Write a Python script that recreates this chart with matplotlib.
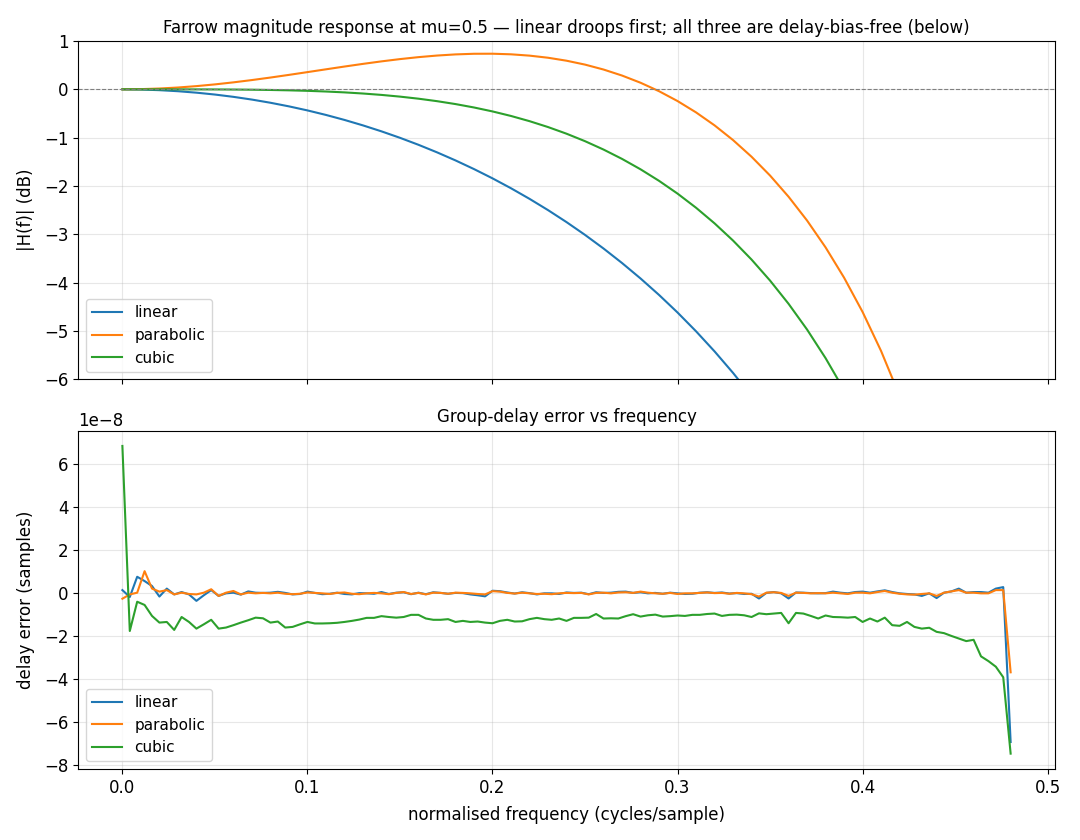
import numpy as np
import matplotlib
matplotlib.use("Agg")
import matplotlib.pyplot as plt

# ---- top panel: magnitude response (dB) at mu = 0.5 ----
freq_mag = [0.00, 0.01, 0.02, 0.03, 0.04, 0.05, 0.06, 0.07, 0.08, 0.09,
            0.10, 0.11, 0.12, 0.13, 0.14, 0.15, 0.16, 0.17, 0.18, 0.19,
            0.20, 0.21, 0.22, 0.23, 0.24, 0.25, 0.26, 0.27, 0.28, 0.29,
            0.30, 0.31, 0.32, 0.33, 0.34, 0.35, 0.36, 0.37, 0.38, 0.39,
            0.40, 0.41, 0.42, 0.43]

mag_linear = [0.0000, -0.0043, -0.0171, -0.0387, -0.0688, -0.1076, -0.1552, -0.2117,
              -0.2773, -0.3520, -0.4358, -0.5293, -0.6324, -0.7455, -0.8687, -1.0024,
              -1.1468, -1.3026, -1.4698, -1.6491, -1.8408, -2.0457, -2.2645, -2.4975,
              -2.7458, -3.0103, -3.2919, -3.5919, -3.9115, -4.2521, -4.6156, -5.0041,
              -5.4195, -5.8650, -6.3436, -6.8590]

mag_parabolic = [0.0000, 0.0043, 0.0171, 0.0379, 0.0666, 0.1024, 0.1445, 0.1921,
                 0.2439, 0.2991, 0.3563, 0.4142, 0.4715, 0.5266, 0.5785, 0.6254,
                 0.6660, 0.6988, 0.7226, 0.7357, 0.7368, 0.7245, 0.6972, 0.6537,
                 0.5923, 0.5116, 0.4098, 0.2854, 0.1366, -0.0385, -0.2422, -0.4769,
                 -0.7449, -1.0496, -1.3943, -1.7832, -2.2211, -2.7138, -3.2690, -3.8953,
                 -4.6045, -5.4122, -6.3388, -7.4133]

mag_cubic = [0.0000, 0.0000, 0.0000, -0.0003, -0.0009, -0.0020, -0.0040, -0.0075,
             -0.0128, -0.0203, -0.0307, -0.0448, -0.0629, -0.0862, -0.1150, -0.1505,
             -0.1932, -0.2444, -0.3046, -0.3751, -0.4567, -0.5506, -0.6580, -0.7798,
             -0.9174, -1.0721, -1.2453, -1.4387, -1.6537, -1.8923, -2.1565, -2.4488,
             -2.7715, -3.1278, -3.5211, -3.9555, -4.4359, -4.9682, -5.5598, -6.2196,
             -6.9594]

# ---- bottom panel: group-delay error (units of 1e-8 samples) ----
freq_gd = np.linspace(0.0, 0.48, 121)

gd_linear_e8 = [
    0.15, -0.17, 0.77, 0.57, 0.34, -0.15, 0.22, -0.05, 0.06, -0.05,
    -0.35, -0.09, 0.15, -0.12, 0.00, 0.03, -0.06, 0.09, 0.03,
    0.02, 0.03, 0.07, 0.02, -0.05, -0.03, 0.08, 0.02, -0.04, -0.02,
    0.03, -0.03, -0.05, 0.01, 0.00, -0.02, 0.06, -0.03, 0.03,
    0.05, -0.04, 0.03, -0.04, 0.05, 0.02, -0.02, 0.02, 0.01, -0.05,
    -0.09, -0.14, 0.12, 0.10, 0.04, -0.01, 0.05, 0.01, -0.05, 0.00,
    0.00, -0.03, 0.04, 0.02, 0.03, -0.04, 0.05, 0.02, 0.03, 0.07,
    0.08, 0.02, 0.05, 0.00, 0.02, -0.02, 0.03, 0.00, -0.03,
    -0.02, 0.03, 0.05, 0.02, 0.04, -0.01, 0.01, -0.03, -0.02, -0.24,
    0.02, 0.06, 0.00, -0.24, 0.04, 0.03, 0.01, 0.00, 0.01, 0.08,
    0.03, 0.00, 0.06, 0.08, 0.03, 0.09, 0.14, 0.06, 0.00, -0.03,
    -0.05, -0.12, 0.00, -0.22, 0.03, 0.09, 0.22, 0.03, 0.06, 0.06,
    0.03, 0.22, 0.29, -6.91]

gd_parabolic_e8 = [
    -0.25, -0.05, 0.03, 1.03, 0.22, 0.08, 0.15, -0.05, 0.03, -0.03,
    -0.05, 0.03, 0.19, -0.12, 0.03, 0.11, -0.05, 0.03, 0.00,
    0.02, 0.00, 0.03, -0.02, -0.04, -0.02, 0.04, 0.02, 0.00, -0.03,
    0.02, 0.04, -0.02, -0.04, 0.00, 0.02, 0.00, -0.04, 0.02,
    0.06, -0.03, 0.02, -0.05, 0.03, 0.02, -0.02, 0.03, 0.02, 0.00,
    -0.03, -0.05, 0.10, 0.08, 0.02, -0.01, 0.03, 0.00, -0.03, -0.02,
    -0.04, 0.00, 0.02, 0.01, 0.02, -0.05, 0.02, 0.03, 0.00, 0.04,
    0.05, 0.02, 0.08, 0.03, 0.00, -0.02, 0.02, -0.03, 0.00,
    0.00, 0.02, 0.04, 0.01, 0.02, -0.02, 0.02, 0.00, -0.04, -0.15,
    0.03, 0.05, 0.02, -0.12, 0.03, 0.02, 0.00, 0.01, 0.00, 0.03,
    0.00, -0.03, 0.03, 0.03, 0.00, 0.06, 0.11, 0.03, -0.02, -0.05,
    -0.06, -0.03, 0.00, -0.12, 0.03, 0.09, 0.15, 0.03, 0.03, 0.00,
    0.00, 0.15, 0.15, -3.67]

gd_cubic_e8 = [
    6.85, -1.75, -0.39, -0.54, -1.05, -1.36, -1.33, -1.70, -1.10, -1.33,
    -1.64, -1.44, -1.23, -1.64, -1.59, -1.48, -1.36, -1.25, -1.13,
    -1.16, -1.36, -1.31, -1.59, -1.56, -1.44, -1.33, -1.40, -1.40, -1.39,
    -1.37, -1.33, -1.28, -1.22, -1.14, -1.14, -1.06, -1.10, -1.13,
    -1.10, -1.00, -1.00, -1.17, -1.23, -1.23, -1.20, -1.33, -1.28, -1.33,
    -1.31, -1.36, -1.39, -1.28, -1.23, -1.31, -1.30, -1.20, -1.14, -1.20,
    -1.23, -1.17, -1.28, -1.14, -1.14, -1.13, -0.96, -1.17, -1.16, -1.17,
    -1.06, -0.97, -1.08, -1.02, -0.99, -1.08, -1.06, -1.03, -1.05,
    -1.00, -1.00, -0.96, -0.94, -1.05, -1.00, -0.99, -1.02, -1.10, -0.93,
    -0.97, -0.94, -0.91, -1.39, -0.91, -0.94, -1.05, -1.17, -1.03, -1.10,
    -1.11, -1.13, -1.10, -1.33, -1.17, -1.31, -1.13, -1.48, -1.51, -1.33,
    -1.56, -1.64, -1.60, -1.79, -1.85, -1.98, -2.10, -2.22, -2.16, -2.93,
    -3.15, -3.41, -3.90, -7.45]

series_names = ["linear", "parabolic", "cubic"]
colors = ["#1f77b4", "#ff7f0e", "#2ca02c"]

plt.rcParams["xtick.labelsize"] = 12
plt.rcParams["ytick.labelsize"] = 12

fig, (ax1, ax2) = plt.subplots(2, 1, figsize=(10.8, 8.4), dpi=100, sharex=True)
fig.subplots_adjust(left=0.0722, right=0.9769, top=0.9512, bottom=0.0845, hspace=0.151)

for name, vals, c in zip(series_names, [mag_linear, mag_parabolic, mag_cubic], colors):
    ax1.plot(freq_mag[:len(vals)], vals, color=c, lw=1.5, label=name)
ax1.axhline(0, color="gray", lw=0.8, ls="--")
ax1.set_ylim(-6, 1)
ax1.set_ylabel("|H(f)| (dB)", fontsize=12, labelpad=6.5)
ax1.set_title("Farrow magnitude response at mu=0.5 \u2014 linear droops first; all three are delay-bias-free (below)",
              fontsize=12)
ax1.grid(True, alpha=0.3)
ax1.legend(loc="lower left", fontsize=11)

for name, vals, c in zip(series_names, [gd_linear_e8, gd_parabolic_e8, gd_cubic_e8], colors):
    ax2.plot(freq_gd, np.array(vals) * 1e-8, color=c, lw=1.5, label=name)
ax2.set_ylabel("delay error (samples)", fontsize=12, labelpad=6.5)
ax2.set_xlabel("normalised frequency (cycles/sample)", fontsize=12, labelpad=6.5)
ax2.set_title("Group-delay error vs frequency", fontsize=12)
ax2.grid(True, alpha=0.3)
ax2.legend(loc="lower left", fontsize=11)
ax2.set_xlim(-0.024, 0.504)

fig.savefig("out.png", dpi=100)
